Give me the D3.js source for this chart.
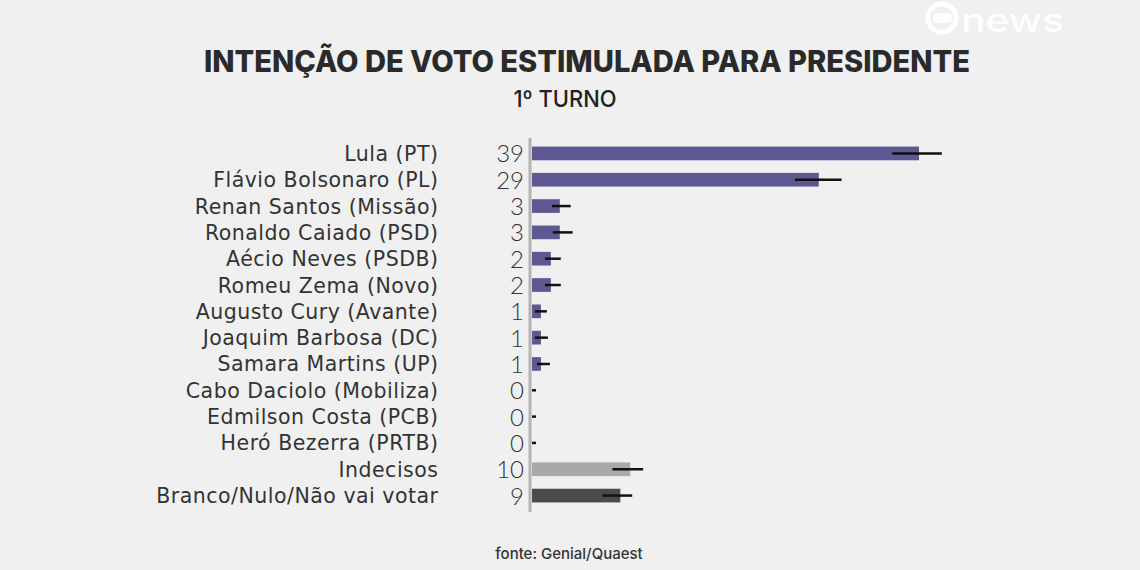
<!DOCTYPE html>
<html>
<head>
<meta charset="utf-8">
<script src="https://cdn.jsdelivr.net/npm/d3@7"></script>
<style>
  html, body { margin: 0; padding: 0; background: #f0f0f0; }
  svg { display: block; }
</style>
</head>
<body>
<svg id="chart" width="1140" height="570"></svg>
<script>
const categories = [
  "Lula (PT)", "Flávio Bolsonaro (PL)", "Renan Santos (Missão)", "Ronaldo Caiado (PSD)",
  "Aécio Neves (PSDB)", "Romeu Zema (Novo)", "Augusto Cury (Avante)", "Joaquim Barbosa (DC)",
  "Samara Martins (UP)", "Cabo Daciolo (Mobiliza)", "Edmilson Costa (PCB)", "Heró Bezerra (PRTB)",
  "Indecisos", "Branco/Nulo/Não vai votar"
];
const values  = [39, 29, 3, 3, 2, 2, 1, 1, 1, 0, 0, 0, 10, 9];
const barValues = [39, 28.9, 2.8, 2.8, 1.9, 1.9, 0.9, 0.9, 0.9, 0, 0, 0, 9.9, 8.9];
const errLow  = [36.3, 26.5, 2.0, 2.1, 1.3, 1.3, 0.3, 0.3, 0.5, 0, 0, 0, 8.1, 7.1];
const errHigh = [41.3, 31.2, 3.9, 4.1, 2.9, 2.9, 1.5, 1.6, 1.8, 0.4, 0.4, 0.4, 11.2, 10.1];
const groups  = ["cand","cand","cand","cand","cand","cand","cand","cand","cand","cand","cand","cand","indec","branco"];

const title = "INTENÇÃO DE VOTO ESTIMULADA PARA PRESIDENTE";
const subtitle = "1º TURNO";
const source = "fonte: Genial/Quaest";
const brand = "news";

const svg = d3.select("#chart");
const W = 1140, H = 570;

svg.append("rect").attr("width", W).attr("height", H).attr("fill", "#f0f0f0");

// watermark logo
const logo = svg.append("g").attr("opacity", 0.95);
logo.append("circle").attr("cx", 942).attr("cy", 18).attr("r", 14)
  .attr("fill", "none").attr("stroke", "#ffffff").attr("stroke-width", 5);
logo.append("rect").attr("x", 933).attr("y", 13).attr("width", 19).attr("height", 10).attr("rx", 4)
  .attr("fill", "#ffffff");
logo.append("text").attr("x", 961).attr("y", 32)
  .attr("font-family", "Inter, 'Liberation Sans', sans-serif").attr("font-size", 32)
  .attr("font-weight", 500).attr("fill", "#ffffff")
  .attr("textLength", 103).attr("lengthAdjust", "spacingAndGlyphs")
  .text(brand);

// titles
svg.append("text").attr("x", 587).attr("y", 72).attr("text-anchor", "middle")
  .attr("font-family", "Inter, 'Liberation Sans', sans-serif").attr("font-weight", 800)
  .attr("font-size", 30).attr("fill", "#2a2a2a")
  .attr("textLength", 766).attr("lengthAdjust", "spacingAndGlyphs")
  .text(title);
svg.append("text").attr("x", 565).attr("y", 107).attr("text-anchor", "middle")
  .attr("font-family", "Inter, 'Liberation Sans', sans-serif").attr("font-weight", 500)
  .attr("font-size", 23).attr("fill", "#222")
  .attr("textLength", 103).attr("lengthAdjust", "spacingAndGlyphs")
  .text(subtitle);
svg.append("text").attr("x", 569).attr("y", 559).attr("text-anchor", "middle")
  .attr("font-family", "Inter, 'Liberation Sans', sans-serif").attr("font-weight", 500)
  .attr("font-size", 15).attr("fill", "#333")
  .text(source);

// scales
const x = d3.scaleLinear().domain([0, 39]).range([532, 919]);
const y = d3.scaleBand().domain(categories).range([140, 509]).paddingInner(0.48).paddingOuter(0.25);

const color = d => d === "indec" ? "#a9a9a9" : d === "branco" ? "#4b4b4b" : "#5e5893";

const data = categories.map((c, i) => ({
  c, v: values[i], b: barValues[i], lo: errLow[i], hi: errHigh[i], g: groups[i]
}));

// bars
svg.append("g").selectAll("rect").data(data).join("rect")
  .attr("x", x(0))
  .attr("y", d => y(d.c))
  .attr("width", d => x(d.b) - x(0))
  .attr("height", y.bandwidth())
  .attr("fill", d => color(d.g));

// axis line
svg.append("line").attr("x1", 530).attr("x2", 530).attr("y1", 138).attr("y2", 512)
  .attr("stroke", "#b3b3b3").attr("stroke-width", 3);

// error bars
svg.append("g").selectAll("line").data(data).join("line")
  .attr("x1", d => Math.max(x(d.lo), 530))
  .attr("x2", d => x(d.hi))
  .attr("y1", d => y(d.c) + y.bandwidth() / 2)
  .attr("y2", d => y(d.c) + y.bandwidth() / 2)
  .attr("stroke", "#111").attr("stroke-width", 2.5);

// value labels
svg.append("g").selectAll("text").data(data).join("text")
  .attr("x", 524)
  .attr("y", d => y(d.c) + y.bandwidth() / 2 + 9)
  .attr("text-anchor", "end")
  .attr("font-family", "Lato, 'Noto Sans', sans-serif").attr("font-weight", 300)
  .attr("font-size", 24).attr("fill", "#333")
  .text(d => d.v);

// category labels
svg.append("g").selectAll("text").data(data).join("text")
  .attr("x", 438.5)
  .attr("y", d => y(d.c) + y.bandwidth() / 2 + 7.5)
  .attr("text-anchor", "end")
  .attr("font-family", "'DejaVu Sans', sans-serif").attr("font-weight", 400)
  .attr("font-size", 20.5).attr("letter-spacing", 0.5).attr("fill", "#333")
  .text(d => d.c);
</script>
</body>
</html>
